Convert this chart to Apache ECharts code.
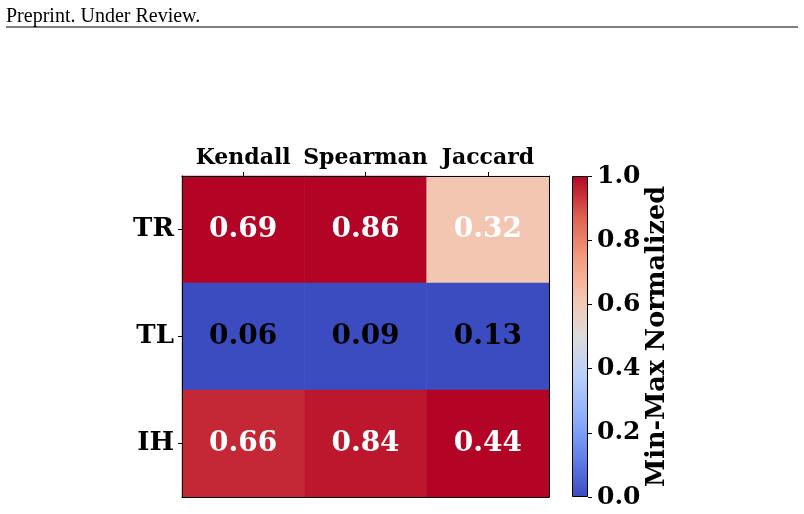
<!DOCTYPE html>
<html>
<head>
<meta charset="utf-8">
<script src="https://cdn.jsdelivr.net/npm/echarts@6/dist/echarts.min.js"></script>
<style>
  html, body { margin: 0; padding: 0; background: #fff; }
  #chart { width: 804px; height: 514px; }
</style>
</head>
<body>
<div id="chart"></div>
<script>
// table values
var metrics = ['Kendall', 'Spearman', 'Jaccard'];
var rows = ['TR', 'TL', 'IH'];
var valTR = [0.69, 0.86, 0.32];
var valTL = [0.06, 0.09, 0.13];
var valIH = [0.66, 0.84, 0.44];
var cbTicks = [0.0, 0.2, 0.4, 0.6, 0.8, 1.0];

// matplotlib coolwarm, sampled every 1/8
var coolwarm = ['#3b4cc0', '#6282ea', '#8db0fe', '#b8d0f9', '#dddcdc',
                '#f5c4ad', '#f49a7b', '#de604d', '#b40426'];

var FONT = 'DejaVu Serif';
var table = [valTR, valTL, valIH];

// min-max per column
var data = [];
metrics.forEach(function (m, ci) {
  var col = table.map(function (r) { return r[ci]; });
  var lo = Math.min.apply(null, col), hi = Math.max.apply(null, col);
  table.forEach(function (r, ri) {
    var n = (r[ci] - lo) / (hi - lo);
    data.push({
      value: [ci, ri, n, r[ci]],
      label: { color: n > 0.5 ? '#fff' : '#000' }
    });
  });
});

var stops = coolwarm.map(function (c, i) {
  return { offset: i / (coolwarm.length - 1), color: c };
});

var chart = echarts.init(document.getElementById('chart'));

var lineStyle = { color: '#000', width: 1 };

var option = {
  animation: false,
  graphic: [
    {
      type: 'text', left: 6, top: 5, scaleY: 1.1,
      style: { text: 'Preprint. Under Review.', font: '20px "Liberation Serif"', fill: '#000' }
    },
    {
      type: 'line',
      shape: { x1: 6, y1: 27, x2: 798, y2: 27 },
      style: { stroke: '#000', lineWidth: 1.2 }
    }
  ],
  grid: [
    { left: 182, top: 176, width: 367, height: 321 },
    { left: 572, top: 176, width: 16, height: 321 }
  ],
  visualMap: {
    show: false,
    type: 'continuous',
    seriesIndex: 0,
    dimension: 2,
    min: 0,
    max: 1,
    inRange: { color: coolwarm }
  },
  xAxis: [
    {
      type: 'category', data: metrics, position: 'top', gridIndex: 0, z: 10,
      axisLine: { show: true, lineStyle: lineStyle },
      axisTick: { show: true, alignWithLabel: true, length: 4, lineStyle: lineStyle },
      axisLabel: {
        color: '#000', fontFamily: FONT, fontWeight: 'bold', fontSize: 22, margin: 7,
        interval: 0, hideOverlap: false
      },
      splitLine: { show: false }
    },
    {
      type: 'category', data: metrics, position: 'bottom', gridIndex: 0, z: 10,
      axisLine: { show: true, lineStyle: lineStyle },
      axisTick: { show: false }, axisLabel: { show: false }
    },
    {
      type: 'category', data: ['cb'], gridIndex: 1, show: false
    }
  ],
  yAxis: [
    {
      type: 'category', data: rows, inverse: true, position: 'left', gridIndex: 0, z: 10,
      axisLine: { show: true, lineStyle: lineStyle },
      axisTick: { show: true, alignWithLabel: true, length: 4, lineStyle: lineStyle },
      axisLabel: { color: '#000', fontFamily: FONT, fontWeight: 'bold', fontSize: 26, margin: 8 },
      splitLine: { show: false }
    },
    {
      type: 'category', data: rows, inverse: true, position: 'right', gridIndex: 0, z: 10,
      axisLine: { show: true, lineStyle: lineStyle },
      axisTick: { show: false }, axisLabel: { show: false }
    },
    {
      type: 'value', gridIndex: 1, position: 'right', min: 0, max: 1, interval: 0.2, z: 10,
      axisLine: { show: false },
      axisTick: { show: true, length: 4, lineStyle: lineStyle },
      axisLabel: {
        color: '#000', fontFamily: FONT, fontWeight: 'bold', fontSize: 25, margin: 9,
        formatter: function (v) { return v.toFixed(1); }
      },
      splitLine: { show: false },
      name: 'Min-Max Normalized',
      nameLocation: 'middle',
      nameRotate: 90,
      nameGap: 56,
      nameTextStyle: { color: '#000', fontFamily: FONT, fontWeight: 'bold', fontSize: 25.5 }
    }
  ],
  series: [
    {
      type: 'heatmap',
      xAxisIndex: 0,
      yAxisIndex: 0,
      data: data,
      label: {
        show: true,
        fontFamily: FONT,
        fontWeight: 'bold',
        fontSize: 28,
        formatter: function (p) { return p.value[3].toFixed(2); }
      },
      emphasis: { disabled: true }
    },
    {
      type: 'bar',
      xAxisIndex: 2,
      yAxisIndex: 2,
      barWidth: '100%',
      data: [cbTicks[cbTicks.length - 1]],
      itemStyle: {
        color: new echarts.graphic.LinearGradient(0, 1, 0, 0, stops),
        borderColor: '#000',
        borderWidth: 1
      },
      silent: true
    }
  ]
};

chart.setOption(option);
</script>
</body>
</html>
